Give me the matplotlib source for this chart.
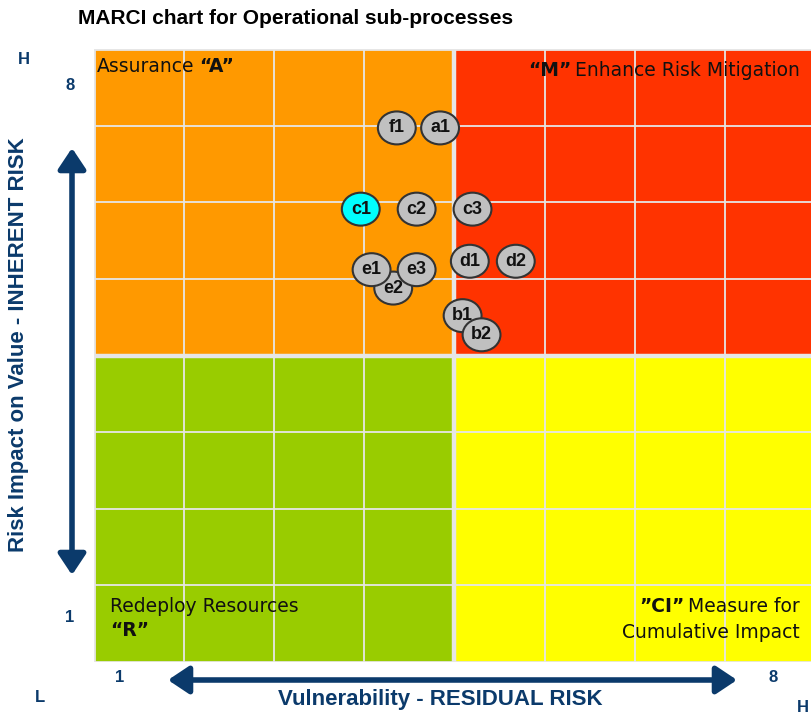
import matplotlib
matplotlib.use("Agg")
import matplotlib.pyplot as plt
from matplotlib.patches import Rectangle, Ellipse, FancyArrowPatch

# ---- data -------------------------------------------------------------
process_labels = ["f1", "a1", "c1", "c2", "c3", "d1", "d2", "e2", "e1", "e3", "b1", "b2"]
vulnerability = [3.36, 3.84, 2.96, 3.58, 4.20, 4.17, 4.68, 3.32, 3.08, 3.58, 4.09, 4.30]
impact = [6.97, 6.97, 5.91, 5.91, 5.91, 5.23, 5.23, 4.88, 5.12, 5.12, 4.52, 4.27]
highlighted = ["c1"]

axis_min, axis_max = 1, 8
quadrant_colors = {"A": "#ff9900", "M": "#ff3300", "R": "#99cc00", "CI": "#ffff00"}

NAVY = "#0b3a6b"
GRID = "#e6e6e6"
W, H = 811, 718


def fx(x):
    return x / W


def fy(y):
    return 1 - y / H


fig = plt.figure(figsize=(W / 100, H / 100), dpi=100)
fig.patch.set_facecolor("white")
ax = fig.add_axes([fx(94), fy(662), 721 / W, 613 / H])
ax.set_xlim(0, 8)
ax.set_ylim(0, 8)
ax.axis("off")

# quadrants
ax.add_patch(Rectangle((0, 4), 4, 4, color=quadrant_colors["A"], lw=0))
ax.add_patch(Rectangle((4, 4), 4, 4, color=quadrant_colors["M"], lw=0))
ax.add_patch(Rectangle((0, 0), 4, 4, color=quadrant_colors["R"], lw=0))
ax.add_patch(Rectangle((4, 0), 4, 4, color=quadrant_colors["CI"], lw=0))

# grid
for i in range(1, 8):
    lw = 3.2 if i == 4 else 1.3
    ax.axvline(i, color=GRID, lw=lw, zorder=2)
    ax.axhline(i, color=GRID, lw=lw, zorder=2)
ax.axvline(0, color=GRID, lw=2, zorder=2)
ax.axhline(0, color=GRID, lw=2, zorder=2)
ax.axhline(8, color=GRID, lw=2, zorder=2)

# bubbles
for lab, x, y in zip(process_labels, vulnerability, impact):
    face = "#00ffff" if lab in highlighted else "#c0c0c0"
    ax.add_patch(Ellipse((x, y), 0.42, 0.43, facecolor=face, edgecolor="#333333",
                         lw=1.5, zorder=5))
    ax.text(x, y, lab, ha="center", va="center", fontsize=13, fontweight="bold",
            family="Liberation Sans", color="#111111", zorder=6)

# title
fig.text(fx(78), fy(19), "MARCI chart for Operational sub-processes",
         ha="left", va="center", fontsize=15, fontweight="bold",
         family="Liberation Sans", color="black")

# quadrant captions
qfont = dict(fontsize=13.5, family="DejaVu Sans", color="#111111")
t = fig.text(fx(97), fy(67), "Assurance", ha="left", va="center", **qfont)
ax.annotate("\u201cA\u201d", xy=(1, 0), xycoords=t, xytext=(3, 0), textcoords="offset points",
            ha="left", va="bottom", fontweight="bold", annotation_clip=False, **qfont)

t = fig.text(fx(800), fy(70), "Enhance Risk Mitigation", ha="right", va="center", **qfont)
ax.annotate("\u201cM\u201d", xy=(0, 0), xycoords=t, xytext=(-3, 0), textcoords="offset points",
            ha="right", va="bottom", fontweight="bold", annotation_clip=False, **qfont)

fig.text(fx(110), fy(606), "Redeploy Resources", ha="left", va="center", **qfont)
fig.text(fx(110), fy(631), "\u201cR\u201d", ha="left", va="center", fontweight="bold", **qfont)

t = fig.text(fx(800), fy(606), "Measure for", ha="right", va="center", **qfont)
ax.annotate("\u201dCI\u201d", xy=(0, 0), xycoords=t, xytext=(-3, 0), textcoords="offset points",
            ha="right", va="bottom", fontweight="bold", annotation_clip=False, **qfont)
fig.text(fx(800), fy(632), "Cumulative Impact", ha="right", va="center", **qfont)

# axis end labels
nfont = dict(fontsize=12, fontweight="bold", color=NAVY, family="Liberation Sans")
fig.text(fx(70), fy(86), str(axis_max), ha="center", va="center", **nfont)
fig.text(fx(70), fy(618), str(axis_min), ha="center", va="center", **nfont)
fig.text(fx(120), fy(677), str(axis_min), ha="center", va="center", **nfont)
fig.text(fx(773), fy(677), str(axis_max), ha="center", va="center", **nfont)
lfont = dict(fontsize=12, fontweight="bold", color=NAVY, family="Liberation Sans")
fig.text(fx(24), fy(60), "H", ha="center", va="center", **lfont)
fig.text(fx(40), fy(697), "L", ha="center", va="center", **lfont)
fig.text(fx(803), fy(708), "H", ha="center", va="center", **lfont)

# axis titles
afont = dict(fontweight="bold", color=NAVY, family="Liberation Sans")
fig.text(fx(440), fy(700), "Vulnerability - RESIDUAL RISK", ha="center", va="center",
         fontsize=16, **afont)
fig.text(fx(19), fy(345), "Risk Impact on Value - INHERENT RISK", ha="center", va="center",
         rotation=90, fontsize=16, **afont)

# double-headed arrows
for (x0, y0, x1, y1) in [(168, 680, 737, 680), (72, 148, 72, 575)]:
    arr = FancyArrowPatch((fx(x0), fy(y0)), (fx(x1), fy(y1)), transform=fig.transFigure,
                          arrowstyle="<|-|>,head_length=0.9,head_width=0.6",
                          mutation_scale=14, color=NAVY, lw=4,
                          shrinkA=0, shrinkB=0)
    fig.add_artist(arr)

fig.savefig("out.png", dpi=100)
